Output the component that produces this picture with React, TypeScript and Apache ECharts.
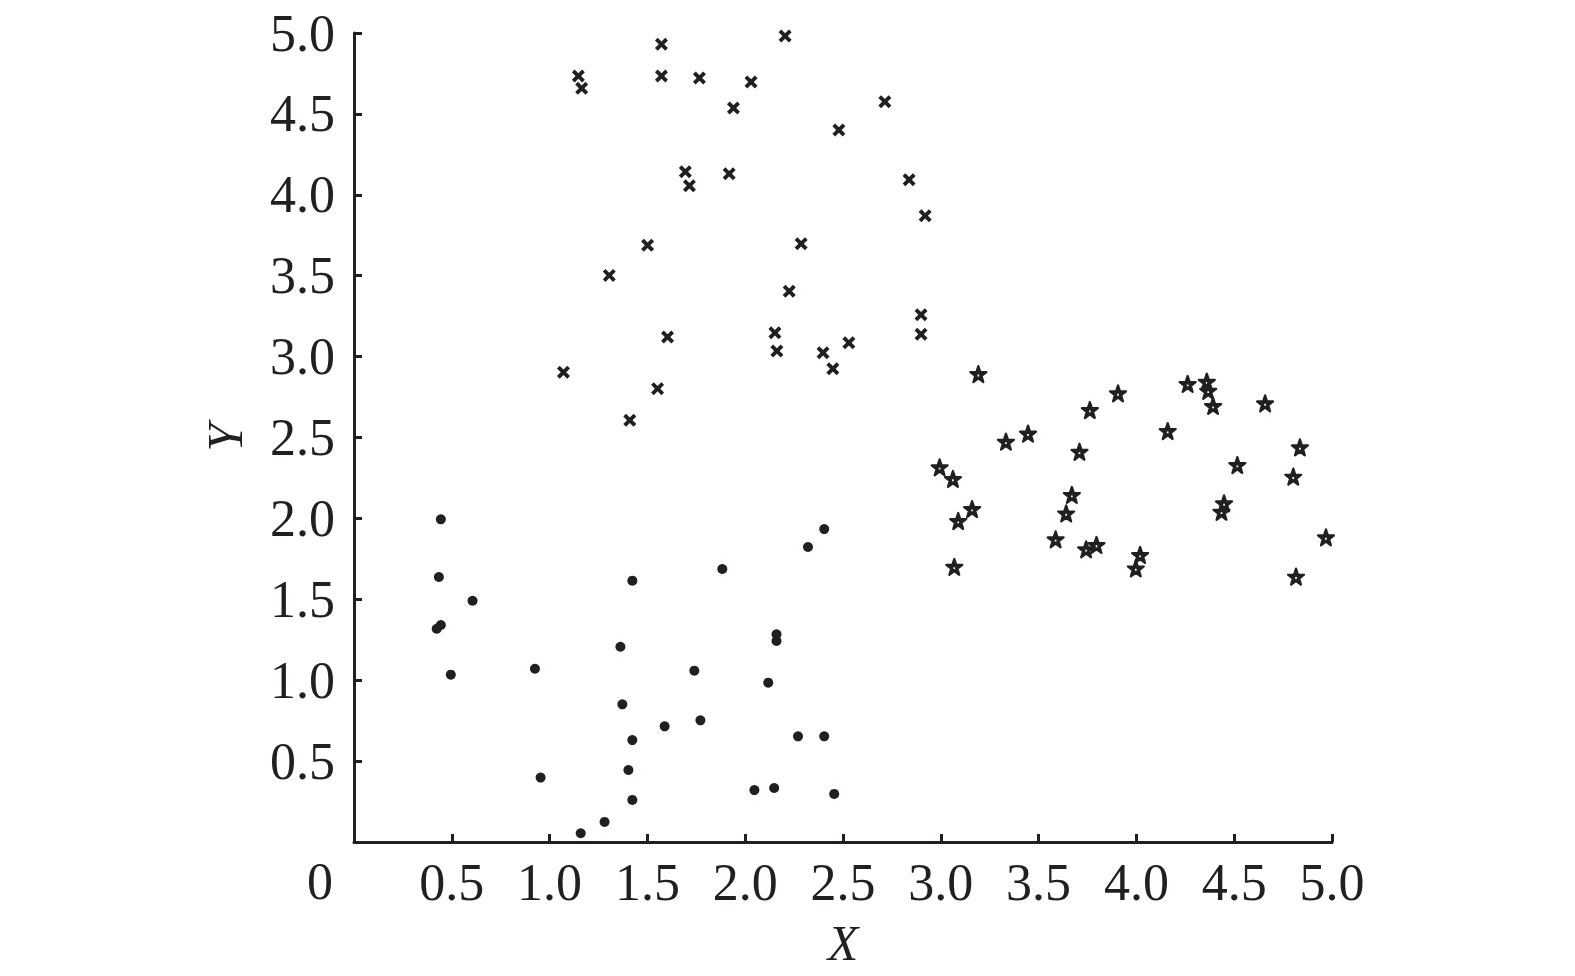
import React, { useEffect, useRef } from "react";
import * as echarts from "echarts";

const dotX = [0.444, 0.434, 0.606, 0.444, 0.423, 0.495, 0.925, 0.954, 1.159, 1.281, 1.423, 1.362, 1.372, 1.423, 1.403, 1.423, 1.588, 1.740, 1.771, 1.883, 2.160, 2.160, 2.118, 2.047, 2.148, 2.270, 2.404, 2.321, 2.404, 2.455];
const dotY = [1.994, 1.638, 1.491, 1.341, 1.318, 1.034, 1.071, 0.398, 0.054, 0.124, 1.615, 1.207, 0.851, 0.630, 0.445, 0.260, 0.715, 1.059, 0.752, 1.687, 1.284, 1.242, 0.985, 0.321, 0.334, 0.653, 0.653, 1.823, 1.934, 0.297];

const crossX = [1.147, 1.164, 1.572, 1.572, 1.766, 2.030, 2.204, 1.940, 2.714, 2.479, 1.694, 1.715, 1.918, 2.838, 2.920, 1.501, 2.286, 1.305, 2.225, 2.899, 2.899, 1.603, 2.152, 2.162, 2.530, 2.398, 2.448, 1.071, 1.552, 1.410];
const crossY = [4.734, 4.658, 4.930, 4.734, 4.722, 4.697, 4.981, 4.536, 4.575, 4.400, 4.143, 4.056, 4.130, 4.093, 3.871, 3.688, 3.698, 3.502, 3.404, 3.259, 3.138, 3.121, 3.148, 3.035, 3.086, 3.024, 2.925, 2.903, 2.802, 2.606];

const starX = [3.192, 4.262, 4.360, 4.367, 4.392, 3.906, 3.762, 4.658, 4.160, 3.333, 3.446, 3.709, 4.836, 2.994, 3.062, 4.516, 4.802, 3.670, 3.641, 3.160, 3.089, 4.448, 4.435, 4.969, 3.587, 3.743, 3.796, 4.019, 3.997, 3.069, 4.816];
const starY = [2.892, 2.831, 2.845, 2.789, 2.695, 2.773, 2.670, 2.711, 2.540, 2.474, 2.524, 2.412, 2.439, 2.316, 2.244, 2.330, 2.258, 2.145, 2.031, 2.058, 1.984, 2.093, 2.041, 1.883, 1.871, 1.809, 1.836, 1.774, 1.691, 1.701, 1.640];

const tickValues = [0.5, 1.0, 1.5, 2.0, 2.5, 3.0, 3.5, 4.0, 4.5, 5.0];

const INK = "#231f20";
const FONT = "Liberation Serif";

const crossPath = "path://M0,2.1 L2.1,0 L5,2.9 L7.9,0 L10,2.1 L7.1,5 L10,7.9 L7.9,10 L5,7.1 L2.1,10 L0,7.9 L2.9,5 Z";
const starPath = "path://M5,0 L6.18,3.38 L9.76,3.45 L6.9,5.62 L7.94,9.05 L5,7 L2.06,9.05 L3.1,5.62 L0.24,3.45 L3.82,3.38 Z M3.85,4.15 L3.85,6.45 L6.15,6.45 L6.15,4.15 Z";

function pairs(xs: number[], ys: number[]) {
  return xs.map((x, i) => [x, ys[i]]);
}

function fmt(v: number) {
  if (v === 0) return "";
  return tickValues.includes(v) ? v.toFixed(1) : "";
}

export default function App() {
  const ref = useRef<HTMLDivElement>(null);
  useEffect(() => {
    if (!ref.current) return;
    const chart = echarts.init(ref.current, undefined, { renderer: "svg" });
    const labelBase = {
      color: INK,
      fontFamily: FONT,
      fontSize: 52,
      formatter: (v: number) => fmt(v),
    };
    const axisCommon = {
      type: "value" as const,
      min: 0,
      max: 5,
      interval: 0.5,
      splitLine: { show: false },
      axisLine: { show: true, lineStyle: { color: INK, width: 3 } },
      axisTick: { show: true, inside: true, length: 8, lineStyle: { color: INK, width: 3 } },
      nameLocation: "middle" as const,
      nameTextStyle: { color: INK, fontFamily: FONT, fontSize: 50, fontStyle: "italic" as const },
    };
    chart.setOption({
      animation: false,
      backgroundColor: "#ffffff",
      grid: { left: 354, right: 243, top: 33, bottom: 134, containLabel: false },
      xAxis: {
        ...axisCommon,
        name: "X",
        nameGap: 76,
        axisLabel: { ...labelBase, margin: 14 },
      },
      yAxis: {
        ...axisCommon,
        name: "Y",
        nameGap: 104,
        axisLabel: { ...labelBase, margin: 19 },
      },
      graphic: [
        {
          type: "text",
          x: 320,
          y: 881,
          style: {
            text: "0",
            fill: INK,
            font: `52px ${FONT}`,
            textAlign: "center",
            textVerticalAlign: "middle",
          },
        },
      ],
      series: [
        {
          type: "scatter",
          name: "dots",
          data: pairs(dotX, dotY),
          symbol: "circle",
          symbolSize: 10,
          itemStyle: { color: INK, opacity: 1 },
        },
        {
          type: "scatter",
          name: "crosses",
          data: pairs(crossX, crossY),
          symbol: crossPath,
          symbolSize: 13,
          itemStyle: { color: INK, opacity: 1 },
        },
        {
          type: "scatter",
          name: "stars",
          data: pairs(starX, starY),
          symbol: starPath,
          symbolSize: 16,
          itemStyle: { color: INK, borderColor: INK, borderWidth: 2.2, borderJoin: "round", opacity: 1 },
        },
      ],
    });
    return () => chart.dispose();
  }, []);
  return (
    <div
      ref={ref}
      style={{ position: "absolute", left: 0, top: 0, width: 1575, height: 976 }}
    />
  );
}
